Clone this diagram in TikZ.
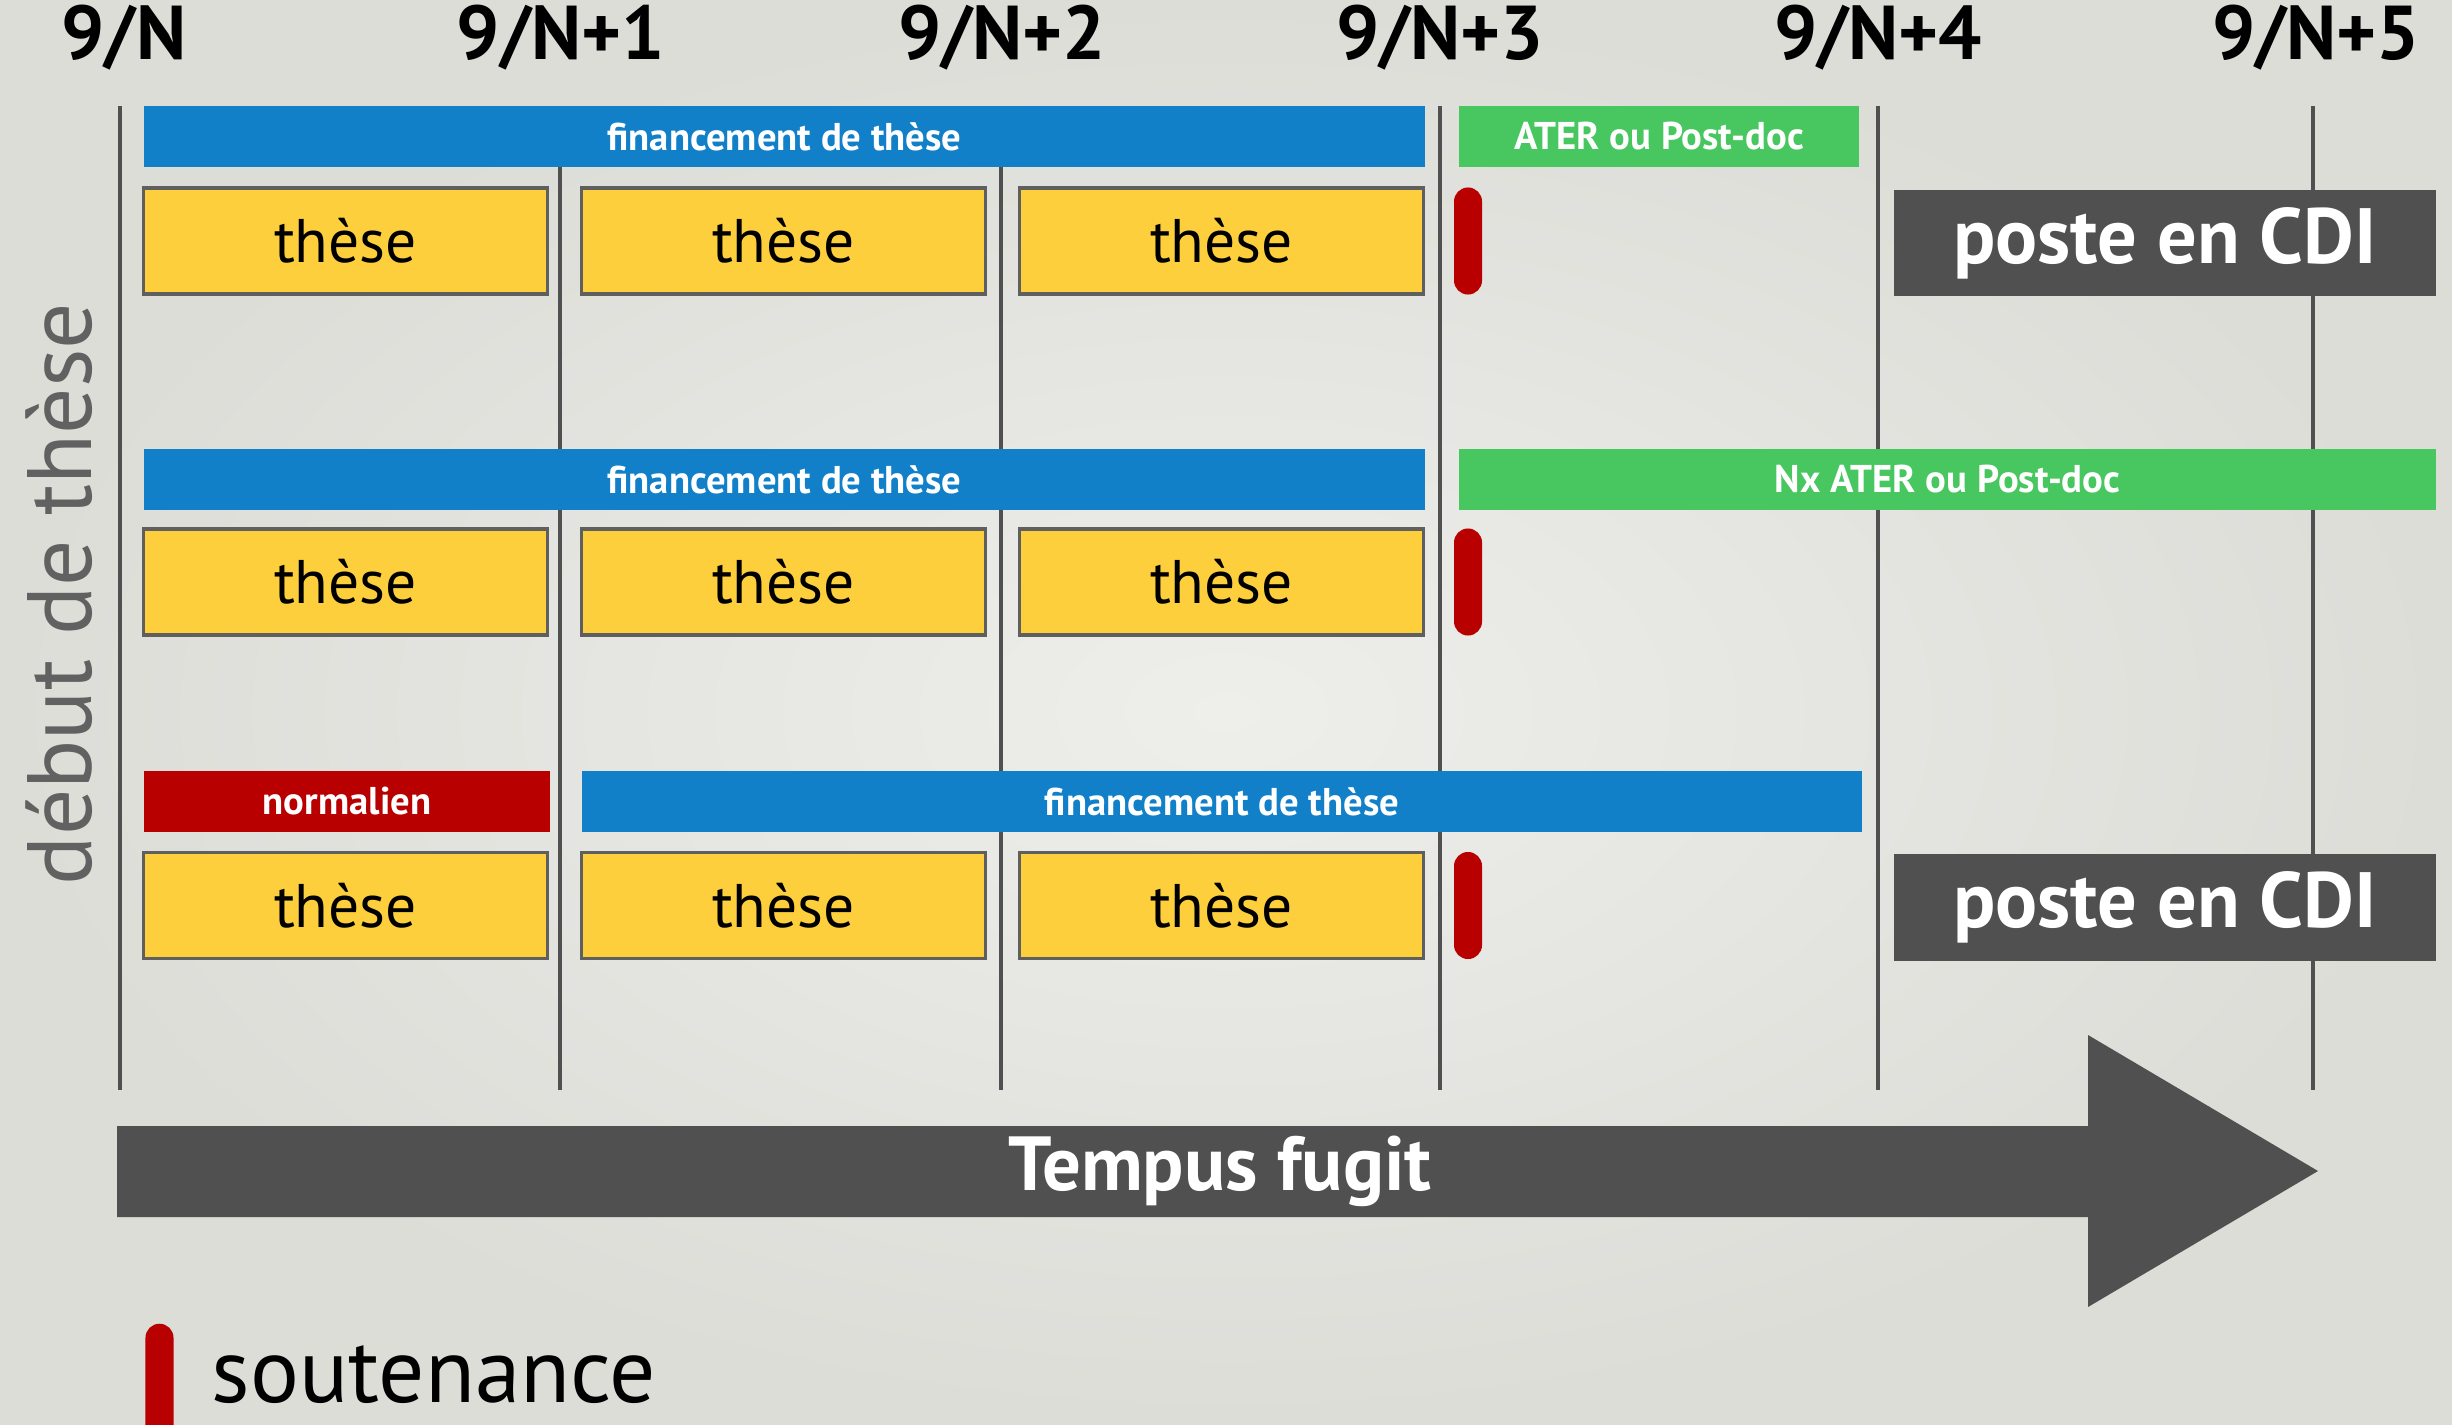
\documentclass[tikz,border=0pt]{standalone}
\usepackage{fontspec}
\setmainfont{PT Sans}
\usepackage{tikz}

\definecolor{finblue}{RGB}{17,128,200}
\definecolor{aterGreen}{RGB}{72,199,96}
\definecolor{theseYellow}{RGB}{253,207,60}
\definecolor{boxGray}{RGB}{95,95,95}
\definecolor{defRed}{RGB}{184,0,0}
\definecolor{cdiGray}{RGB}{80,80,80}
\definecolor{bgIn}{RGB}{238,238,235}
\definecolor{bgOut}{RGB}{220,221,215}

\tikzset{
  yearlbl/.style={font=\bfseries\fontsize{21.7}{26}\selectfont,inner sep=0pt},
  yearline/.style={draw=cdiGray,line width=1.1pt},
  bar/.style={fill=#1,text=white,font=\bfseries\fontsize{11}{13}\selectfont,inner sep=0pt,minimum height=0.61cm},
  these/.style={fill=theseYellow,draw=boxGray,line width=0.9pt,inner sep=0pt,minimum width=4.03cm,minimum height=1.06cm,font=\fontsize{17.5}{21}\selectfont},
  defense/.style={fill=defRed,rounded corners=0.14cm,inner sep=0pt,minimum width=0.28cm,minimum height=1.07cm},
  cdi/.style={fill=cdiGray,text=white,inner sep=0pt,minimum width=5.42cm,minimum height=1.06cm,font=\bfseries\fontsize{22.3}{26}\selectfont}
}

\begin{document}
\begin{tikzpicture}[x=0.01cm,y=-0.01cm]
  \useasboundingbox (0,0) rectangle (2452,1424);
  \shade[inner color=bgIn,outer color=bgOut] (0,0) rectangle (2452,1424);
  % years
  \foreach \x/\s [count=\i from 0] in {124/{},561/+1,1002/+2,1440/+3,1878/+4,2316/+5}{
    \node[yearlbl] (year\i) at (\x,38) {9/N\s};
  }
  \foreach \x [count=\i from 0] in {120,560,1001,1440,1878,2313}
    \draw[yearline] (\x,106) coordinate (top\i) -- (\x,1090) coordinate (bot\i);
  % funding bars
  \node[bar=finblue,minimum width=12.81cm] (fin1) at (784.5,136.5) {financement de thèse};
  \node[bar=aterGreen,minimum width=4cm] (ater1) at (1659,136.5) {ATER ou Post-doc};
  \node[bar=finblue,minimum width=12.81cm] (fin2) at (784.5,479.5) {financement de thèse};
  \node[bar=aterGreen,minimum width=9.77cm] (ater2) at (1947.5,479.5) {Nx ATER ou Post-doc};
  \node[bar=defRed,minimum width=4.06cm] (norm3) at (347,801.5) {normalien};
  \node[bar=finblue,minimum width=12.8cm] (fin3) at (1222,801.5) {financement de thèse};
  % theses and defenses
  \foreach \r/\y in {1/241,2/582,3/905.5}{
    \foreach \c/\x in {1/345.5,2/783.5,3/1221.5}
      \node[these] (these\r\c) at (\x,\y) {thèse};
    \node[defense] (def\r) at (1468,\y) {};
  }
  \node[cdi] (cdi1) at (2165,243) {poste en CDI};
  \node[cdi] (cdi3) at (2165,907.5) {poste en CDI};
  % time arrow
  \fill[cdiGray] (117,1126) -- (2088,1126) -- (2088,1035) -- (2318,1171)
    -- (2088,1307) -- (2088,1217) -- (117,1217) -- cycle;
  \node[text=white,font=\bfseries\fontsize{21.8}{26}\selectfont] (tempus) at (1220,1171) {Tempus fugit};
  \node[rotate=90,text=cdiGray!90!white,font=\fontsize{26}{30}\selectfont] (debut) at (59,594) {début de thèse};
  % legend
  \node[defense,minimum height=1.4cm,anchor=north] (legdef) at (159.5,1323) {};
  \node[anchor=base west,inner sep=0pt,font=\fontsize{26}{30}\selectfont] (legtxt) at (211,1402) {soutenance};
\end{tikzpicture}
\end{document}
